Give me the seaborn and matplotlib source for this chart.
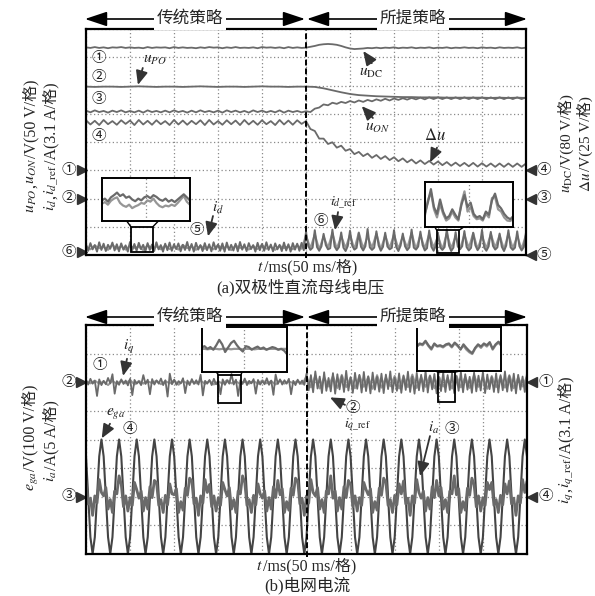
import numpy as np
import matplotlib
matplotlib.use("Agg")
import matplotlib.pyplot as plt
import matplotlib.transforms as mtrans
from matplotlib.patches import FancyArrowPatch, Rectangle
import seaborn as sns

# ---------------- data (oscilloscope divisions, time in ms) ----------------
# panel (a)
u_dc = [7.35, 7.33, 7.36, 7.33, 7.35, 7.32, 7.35, 7.34, 7.36, 7.33,
        7.35, 7.33, 7.34, 7.32, 7.36, 7.33, 7.35, 7.34, 7.35, 7.32,
        7.36, 7.33, 7.35, 7.33, 7.34, 7.32, 7.35, 7.33, 7.36, 7.34,
        7.35, 7.32, 7.35, 7.33, 7.36, 7.33, 7.34, 7.33, 7.35, 7.32,
        7.36, 7.34, 7.35, 7.33, 7.35, 7.32, 7.36, 7.33, 7.35, 7.33,
        7.34, 7.37, 7.40, 7.44, 7.46, 7.47, 7.46, 7.44, 7.40, 7.35,
        7.31, 7.29, 7.30, 7.31, 7.33, 7.32, 7.34, 7.32, 7.34, 7.33,
        7.35, 7.32, 7.34, 7.33, 7.35, 7.32, 7.34, 7.33, 7.35, 7.32,
        7.34, 7.33, 7.35, 7.32, 7.34, 7.33, 7.35, 7.33, 7.34, 7.32,
        7.35, 7.33, 7.34, 7.32, 7.35, 7.33, 7.34, 7.33, 7.35, 7.32,
        7.34]
u_po = [5.96, 5.95, 5.96, 5.96, 5.95, 5.96, 5.97, 5.96, 5.95, 5.96,
        5.96, 5.95, 5.96, 5.97, 5.96, 5.95, 5.96, 5.96, 5.95, 5.96,
        5.97, 5.96, 5.96, 5.95, 5.96, 5.96,
        5.95, 5.90, 5.83, 5.76, 5.70, 5.66, 5.64, 5.62, 5.61, 5.60,
        5.59, 5.59, 5.58, 5.58, 5.58, 5.57, 5.57, 5.57, 5.57, 5.57,
        5.56, 5.57, 5.56, 5.57, 5.56]
u_on = [5.11, 5.05, 5.12, 5.06, 5.10, 5.04, 5.11, 5.06, 5.12, 5.05,
        5.10, 5.05, 5.11, 5.04, 5.12, 5.06, 5.10, 5.05, 5.11, 5.05,
        5.12, 5.06, 5.10, 5.04, 5.11, 5.05, 5.12, 5.06, 5.10, 5.05,
        5.11, 5.04, 5.12, 5.06, 5.11, 5.05, 5.10, 5.04, 5.12, 5.06,
        5.11, 5.05, 5.10, 5.05, 5.12, 5.04, 5.11, 5.06, 5.10, 5.05,
        5.09, 5.06, 5.18, 5.22, 5.33, 5.30, 5.39, 5.35, 5.42, 5.38,
        5.45, 5.40, 5.47, 5.42, 5.49, 5.44, 5.51, 5.46, 5.53, 5.47,
        5.54, 5.49, 5.55, 5.50, 5.56, 5.51, 5.57, 5.51, 5.58, 5.52,
        5.58, 5.52, 5.58, 5.52, 5.58, 5.52, 5.58, 5.52, 5.58, 5.52,
        5.58, 5.52, 5.58, 5.52, 5.58, 5.52, 5.58, 5.52, 5.58, 5.52,
        5.58]
du = [4.77, 4.62, 4.75, 4.60, 4.78, 4.63, 4.74, 4.61, 4.77, 4.64,
      4.76, 4.60, 4.78, 4.62, 4.75, 4.61, 4.77, 4.63, 4.74, 4.60,
      4.78, 4.62, 4.76, 4.61, 4.75, 4.63, 4.77, 4.60, 4.78, 4.62,
      4.74, 4.61, 4.77, 4.63, 4.76, 4.60, 4.78, 4.62, 4.75, 4.61,
      4.77, 4.63, 4.74, 4.60, 4.78, 4.62, 4.76, 4.61, 4.77, 4.64,
      4.74, 4.46, 4.39, 4.12, 4.12, 3.93, 3.99, 3.80, 3.87, 3.69,
      3.75, 3.57, 3.65, 3.50, 3.59, 3.44, 3.54, 3.40, 3.50, 3.36,
      3.46, 3.32, 3.42, 3.28, 3.38, 3.24, 3.35, 3.22, 3.33, 3.20,
      3.31, 3.18, 3.29, 3.16, 3.27, 3.15, 3.26, 3.14, 3.26, 3.13,
      3.25, 3.13, 3.24, 3.12, 3.24, 3.12, 3.24, 3.12, 3.24, 3.12,
      3.24]
i_d = [0.38, 0.15, 0.42, 0.20, 0.35, 0.12, 0.45, 0.18, 0.40, 0.14,
       0.36, 0.22, 0.44, 0.16, 0.38, 0.13, 0.41, 0.19, 0.34, 0.12,
       0.46, 0.17, 0.39, 0.15, 0.43, 0.21, 0.36, 0.13, 0.42, 0.18,
       0.37, 0.14, 0.45, 0.20, 0.35, 0.12, 0.40, 0.17, 0.44, 0.15,
       0.38, 0.21, 0.41, 0.13, 0.36, 0.18, 0.46, 0.16, 0.39, 0.12,
       0.43, 0.19, 0.35, 0.14, 0.42, 0.17, 0.38, 0.13, 0.45, 0.20,
       0.37, 0.15, 0.41, 0.12, 0.44, 0.18, 0.36, 0.16, 0.40, 0.13,
       0.46, 0.19, 0.38, 0.14, 0.42, 0.21, 0.35, 0.12, 0.43, 0.17,
       0.39, 0.15, 0.45, 0.18, 0.37, 0.13, 0.41, 0.20, 0.36, 0.14,
       0.44, 0.16, 0.38, 0.12, 0.42, 0.19, 0.40, 0.15, 0.43, 0.17,
       0.82, 0.32, 0.18, 0.26, 0.88, 0.28, 0.15, 0.30, 0.75, 0.35,
       0.20, 0.24, 0.90, 0.30, 0.17, 0.28, 0.80, 0.26, 0.14, 0.32,
       0.86, 0.33, 0.19, 0.25, 0.78, 0.29, 0.16, 0.31, 0.92, 0.27,
       0.18, 0.26, 0.84, 0.34, 0.15, 0.29, 0.79, 0.30, 0.20, 0.25,
       0.88, 0.28, 0.14, 0.33, 0.76, 0.31, 0.17, 0.27, 0.90, 0.26,
       0.19, 0.30, 0.83, 0.35, 0.16, 0.24, 0.87, 0.29, 0.15, 0.32,
       0.77, 0.27, 0.18, 0.28, 0.91, 0.33, 0.14, 0.26, 0.81, 0.30,
       0.20, 0.31, 0.85, 0.28, 0.16, 0.25, 0.79, 0.34, 0.17, 0.29,
       0.89, 0.26, 0.15, 0.30, 0.82, 0.32, 0.19, 0.27, 0.76, 0.29,
       0.14, 0.33, 0.88, 0.27, 0.18, 0.26, 0.84, 0.31, 0.16, 0.28,
       0.80]
i_d_ref = [0.30, 0.20, 0.34, 0.24, 0.28, 0.18, 0.36, 0.22, 0.31, 0.19,
           0.33, 0.25, 0.29, 0.17, 0.35, 0.23, 0.30, 0.20, 0.34, 0.21,
           0.28, 0.19, 0.36, 0.24, 0.31, 0.18, 0.33, 0.22, 0.29, 0.20,
           0.35, 0.23, 0.30, 0.17, 0.34, 0.25, 0.28, 0.19, 0.32, 0.21,
           0.36, 0.22, 0.29, 0.18, 0.33, 0.24, 0.31, 0.20, 0.35, 0.22,
           0.70, 0.24, 0.74, 0.20, 0.66, 0.26, 0.78, 0.22, 0.68, 0.25,
           0.72, 0.21, 0.80, 0.23, 0.65, 0.26, 0.76, 0.20, 0.70, 0.24,
           0.74, 0.22, 0.67, 0.25, 0.79, 0.21, 0.71, 0.23, 0.75, 0.26,
           0.68, 0.20, 0.77, 0.24, 0.66, 0.22, 0.73, 0.25, 0.78, 0.21,
           0.69, 0.23, 0.75, 0.26, 0.71, 0.20, 0.76, 0.24, 0.67, 0.22,
           0.72]

# panel (b)
i_q = [6.08, 5.92, 6.12, 5.95, 6.05, 5.52, 6.10, 5.90,
       6.05, 5.93, 6.15, 5.96, 6.28, 5.60, 6.04, 5.91,
       6.10, 5.94, 6.06, 5.89, 6.12, 5.55, 6.08, 5.95,
       6.03, 5.90, 6.25, 5.94, 6.09, 5.58, 6.11, 5.92,
       6.06, 5.95, 6.13, 5.90, 6.07, 5.50, 6.30, 5.93,
       6.09, 5.91, 6.04, 5.96, 6.14, 5.62, 6.06, 5.90,
       6.11, 5.94, 6.07, 5.92, 6.26, 5.54, 6.05, 5.95,
       6.08, 5.90, 6.12, 5.93, 6.04, 5.58, 6.10, 5.91,
       6.06, 5.95, 6.29, 5.92, 6.09, 5.52, 6.07, 5.94,
       6.13, 5.90, 6.05, 5.96, 6.11, 5.60, 6.08, 5.92,
       6.04, 5.93, 6.14, 5.91, 6.06, 5.56, 6.27, 5.94,
       6.10, 5.92, 6.07, 5.95, 6.12, 5.58, 6.05, 5.90,
       6.09, 5.94, 6.06, 5.91,
       6.30, 5.72, 6.25, 5.65, 6.38, 5.78, 6.20, 5.62, 6.35, 5.70,
       6.15, 5.68, 6.32, 5.60, 6.28, 5.75, 6.22, 5.66, 6.40, 5.71,
       6.18, 5.63, 6.33, 5.77, 6.26, 5.64, 6.36, 5.69, 6.21, 5.61,
       6.34, 5.74, 6.19, 5.67, 6.30, 5.62, 6.27, 5.76, 6.38, 5.65,
       6.16, 5.70, 6.31, 5.63, 6.24, 5.73, 6.37, 5.66, 6.20, 5.60,
       6.33, 5.72, 6.26, 5.68, 6.39, 5.64, 6.22, 5.75, 6.29, 5.61,
       6.17, 5.69, 6.35, 5.66, 6.25, 5.73, 6.32, 5.62, 6.21, 5.70,
       6.37, 5.65, 6.28, 5.74, 6.19, 5.63, 6.34, 5.68, 6.23, 5.71,
       6.36, 5.62, 6.27, 5.76, 6.18, 5.66, 6.31, 5.64, 6.25, 5.72,
       6.38, 5.67, 6.22, 5.70, 6.30, 5.61, 6.26, 5.74, 6.20, 5.66,
       6.32]
i_q_ref = [6.04, 5.96, 6.06, 5.95, 6.03, 5.90, 6.05, 5.94, 6.06, 5.96,
           6.08, 5.92, 6.05, 5.95, 6.03, 5.97, 6.06, 5.93, 6.04, 5.96,
           6.07, 5.91, 6.05, 5.95, 6.04, 5.96, 6.06, 5.94, 6.05, 5.92,
           6.03, 5.95, 6.08, 5.96, 6.04, 5.93, 6.06, 5.95, 6.05, 5.94,
           6.07, 5.96, 6.04, 5.92, 6.06, 5.95, 6.03, 5.97, 6.05, 5.94,
           6.20, 5.82, 6.24, 5.78, 6.18, 5.85, 6.22, 5.80, 6.26, 5.83,
           6.16, 5.79, 6.23, 5.84, 6.19, 5.77, 6.25, 5.81, 6.17, 5.86,
           6.22, 5.78, 6.20, 5.83, 6.27, 5.80, 6.18, 5.84, 6.24, 5.79,
           6.21, 5.85, 6.16, 5.78, 6.23, 5.82, 6.19, 5.80, 6.26, 5.84,
           6.18, 5.77, 6.22, 5.83, 6.20, 5.81, 6.25, 5.79, 6.17, 5.85,
           6.21]
e_ga = [3.41, 2.00, 0.59, 0.00, 0.59, 2.00, 3.41, 4.00,
        3.41, 2.00, 0.59, 0.00, 0.59, 2.00, 3.41, 4.00,
        3.41, 2.00, 0.59, 0.00, 0.59, 2.00, 3.41, 4.00,
        3.41, 2.00, 0.59, 0.00, 0.59, 2.00, 3.41, 4.00,
        3.41, 2.00, 0.59, 0.00, 0.59, 2.00, 3.41, 4.00,
        3.41, 2.00, 0.59, 0.00, 0.59, 2.00, 3.41, 4.00,
        3.41, 2.00, 0.59, 0.00, 0.59, 2.00, 3.41, 4.00,
        3.41, 2.00, 0.59, 0.00, 0.59, 2.00, 3.41, 4.00,
        3.41, 2.00, 0.59, 0.00, 0.59, 2.00, 3.41, 4.00,
        3.41, 2.00, 0.59, 0.00, 0.59, 2.00, 3.41, 4.00,
        3.41, 2.00, 0.59, 0.00, 0.59, 2.00, 3.41, 4.00,
        3.41, 2.00, 0.59, 0.00, 0.59, 2.00, 3.41, 4.00,
        3.41, 2.00, 0.59, 0.00, 0.59, 2.00, 3.41, 4.00,
        3.41, 2.00, 0.59, 0.00, 0.59, 2.00, 3.41, 4.00,
        3.41, 2.00, 0.59, 0.00, 0.59, 2.00, 3.41, 4.00,
        3.41, 2.00, 0.59, 0.00, 0.59, 2.00, 3.41, 4.00,
        3.41, 2.00, 0.59, 0.00, 0.59, 2.00, 3.41, 4.00,
        3.41, 2.00, 0.59, 0.00, 0.59, 2.00, 3.41, 4.00,
        3.41, 2.00, 0.59, 0.00, 0.59, 2.00, 3.41, 4.00,
        3.41, 2.00, 0.59, 0.00, 0.59, 2.00, 3.41, 4.00,
        3.41, 2.00, 0.59, 0.00, 0.59, 2.00, 3.41, 4.00,
        3.41, 2.00, 0.59, 0.00, 0.59, 2.00, 3.41, 4.00,
        3.41, 2.00, 0.59, 0.00, 0.59, 2.00, 3.41, 4.00,
        3.41, 2.00, 0.59, 0.00, 0.59, 2.00, 3.41, 4.00,
        3.41, 2.00, 0.59, 0.00, 0.59, 2.00, 3.41, 4.00,
        3.41]
i_a = [2.55, 1.75, 1.95, 1.35, 2.03, 1.78, 2.60, 2.15,
       2.03, 2.32, 1.57, 1.90, 1.45, 2.20, 2.10, 2.73,
       2.43, 1.65, 2.03, 1.50, 1.97, 1.70, 2.50, 2.25,
       1.95, 2.20, 1.50, 1.97, 1.57, 2.35, 1.97, 2.57,
       2.50, 1.70, 1.90, 1.45, 2.05, 1.72, 2.45, 2.10,
       2.07, 2.28, 1.45, 1.83, 1.53, 2.30, 2.05, 2.65,
       2.55, 1.75, 1.95, 1.35, 2.03, 1.78, 2.60, 2.15,
       2.43, 1.65, 2.03, 1.50, 1.97, 1.70, 2.50, 2.25,
       2.03, 2.32, 1.57, 1.90, 1.45, 2.20, 2.10, 2.73,
       2.50, 1.70, 1.90, 1.45, 2.05, 1.72, 2.45, 2.10,
       1.95, 2.20, 1.50, 1.97, 1.57, 2.35, 1.97, 2.57,
       2.07, 2.28, 1.45, 1.83, 1.53, 2.30, 2.05, 2.65,
       2.55, 1.75, 1.95, 1.35, 2.03, 1.78, 2.60, 2.15,
       2.03, 2.32, 1.57, 1.90, 1.45, 2.20, 2.10, 2.73,
       1.95, 2.20, 1.50, 1.97, 1.57, 2.35, 1.97, 2.57,
       2.43, 1.65, 2.03, 1.50, 1.97, 1.70, 2.50, 2.25,
       2.07, 2.28, 1.45, 1.83, 1.53, 2.30, 2.05, 2.65,
       2.50, 1.70, 1.90, 1.45, 2.05, 1.72, 2.45, 2.10,
       2.55, 1.75, 1.95, 1.35, 2.03, 1.78, 2.60, 2.15,
       1.95, 2.20, 1.50, 1.97, 1.57, 2.35, 1.97, 2.57,
       2.03, 2.32, 1.57, 1.90, 1.45, 2.20, 2.10, 2.73,
       2.07, 2.28, 1.45, 1.83, 1.53, 2.30, 2.05, 2.65,
       2.43, 1.65, 2.03, 1.50, 1.97, 1.70, 2.50, 2.25,
       2.50, 1.70, 1.90, 1.45, 2.05, 1.72, 2.45, 2.10,
       2.55, 1.75, 1.95, 1.35, 2.03, 1.78, 2.60, 2.15,
       2.55]

# zoomed insets (normalised 0..1 inside each inset)
ins_a1_id = [0.48, 0.52, 0.45, 0.55, 0.60, 0.66, 0.58, 0.62, 0.54, 0.57,
             0.50, 0.46, 0.52, 0.48, 0.55, 0.58, 0.53, 0.60, 0.56, 0.50,
             0.47, 0.52, 0.45, 0.49, 0.44, 0.50, 0.56, 0.62, 0.55, 0.48]
ins_a1_ref = [0.40, 0.44, 0.38, 0.47, 0.52, 0.55, 0.42, 0.36, 0.33, 0.38,
              0.30, 0.34, 0.37, 0.42, 0.40, 0.48, 0.45, 0.52, 0.42, 0.35,
              0.32, 0.36, 0.34, 0.38, 0.35, 0.42, 0.50, 0.58, 0.45, 0.38]
ins_a2_id = [0.30, 0.55, 0.85, 0.45, 0.30, 0.62, 0.35, 0.20, 0.25, 0.40,
             0.28, 0.18, 0.50, 0.72, 0.45, 0.55, 0.30, 0.22, 0.25, 0.18,
             0.35, 0.28, 0.60, 0.75, 0.50, 0.42, 0.30, 0.22, 0.18, 0.25]
ins_a2_ref = [0.25, 0.60, 0.78, 0.40, 0.22, 0.52, 0.30, 0.15, 0.20, 0.35,
              0.22, 0.15, 0.55, 0.80, 0.35, 0.45, 0.25, 0.18, 0.20, 0.15,
              0.30, 0.22, 0.65, 0.68, 0.40, 0.35, 0.22, 0.15, 0.14, 0.20]
ins_b1_iq = [0.55, 0.58, 0.52, 0.56, 0.50, 0.60, 0.72, 0.62, 0.45, 0.55,
             0.65, 0.70, 0.60, 0.52, 0.46, 0.58, 0.56, 0.50, 0.54, 0.57,
             0.52, 0.55, 0.50, 0.53, 0.56, 0.54, 0.50, 0.52, 0.48, 0.40]
ins_b1_ref = [0.52, 0.52, 0.51, 0.52, 0.52, 0.52, 0.51, 0.52, 0.52, 0.52,
              0.51, 0.52, 0.52, 0.52, 0.51, 0.52, 0.52, 0.52, 0.51, 0.52,
              0.52, 0.52, 0.51, 0.52, 0.52, 0.52, 0.51, 0.52, 0.52, 0.52]
ins_b2_iq = [0.55, 0.62, 0.60, 0.68, 0.58, 0.50, 0.62, 0.56, 0.58, 0.55,
             0.60, 0.62, 0.55, 0.64, 0.58, 0.48, 0.60, 0.52, 0.45, 0.40,
             0.52, 0.60, 0.55, 0.62, 0.58, 0.65, 0.50, 0.60, 0.66, 0.58]
ins_b2_ref = [0.55, 0.60, 0.58, 0.66, 0.56, 0.48, 0.60, 0.55, 0.56, 0.53,
              0.58, 0.60, 0.53, 0.62, 0.56, 0.50, 0.57, 0.48, 0.42, 0.38,
              0.50, 0.58, 0.52, 0.60, 0.55, 0.63, 0.48, 0.58, 0.64, 0.56]

# channel ground markers (label, level in divisions)
marks_a_left = [("①", 3.0), ("②", 2.0), ("⑥", 0.1)]
marks_a_right = [("④", 3.0), ("③", 2.0), ("⑤", 0.0)]
marks_b_left = [("②", 6.0), ("③", 2.0)]
marks_b_right = [("①", 6.0), ("④", 2.0)]

# ---------------- style ----------------
sns.set_theme(style="white")
plt.rcParams["font.family"] = ["Liberation Serif", "Noto Sans CJK SC"]
plt.rcParams["mathtext.fontset"] = "stix"
plt.rcParams["axes.unicode_minus"] = False

W, H = 595, 596
fig = plt.figure(figsize=(5.95, 5.96), dpi=100)


def fx(x):
    return x / W


def fy(y):
    return 1 - y / H


ax1 = fig.add_axes([fx(86), fy(255), (526 - 86) / W, (255 - 29) / H])
ax2 = fig.add_axes([fx(86), fy(554), (527 - 86) / W, (554 - 325) / H])

MID = "#6a6a6a"
LIGHT = "#969696"


def trace(ax, vals, color, lw, z=3):
    t = np.linspace(0, 500, len(vals))
    sns.lineplot(x=t, y=np.asarray(vals), ax=ax, color=color, lw=lw,
                 estimator=None, sort=False, legend=False, zorder=z)


def frame(ax):
    ax.set_xlim(0, 500)
    ax.set_ylim(0, 8)
    ax.set_xticks(np.arange(0, 501, 50))
    ax.set_yticks(np.arange(0, 9, 1))
    ax.grid(True, ls=(0, (1, 2)), color="#8a8a8a", lw=0.9)
    ax.set_axisbelow(True)
    ax.tick_params(length=0, labelbottom=False, labelleft=False)
    ax.set_xlabel("")
    ax.set_ylabel("")
    for s in ax.spines.values():
        s.set_color("black")
        s.set_linewidth(1.6)
        s.set_zorder(10)
    ax.axvline(250, color="black", lw=1.4, ls=(0, (3, 1.5)), zorder=6,
               ymin=-0.015, ymax=1, clip_on=False)


# panel (a) traces
trace(ax1, u_dc, MID, 1.3)
trace(ax1, u_po, MID, 1.3)
trace(ax1, u_on, MID, 1.3)
trace(ax1, du, MID, 1.3)
trace(ax1, i_d_ref, LIGHT, 1.4)
trace(ax1, i_d, MID, 1.4)
frame(ax1)

# panel (b) traces
trace(ax2, e_ga, "#444444", 1.5)
trace(ax2, i_a, MID, 2.0)
trace(ax2, i_q_ref, LIGHT, 1.4)
trace(ax2, i_q, MID, 1.3)
frame(ax2)


def side_marks(ax, marks, side, tri_x, num_x):
    tr = mtrans.blended_transform_factory(ax.transAxes, ax.transData)
    for lab, lvl in marks:
        ax.plot([tri_x], [lvl], marker=">" if side == "left" else "<",
                ms=6.5, color="#333333", transform=tr, clip_on=False)
        ax.text(num_x, lvl, lab, transform=tr, ha="center", va="center",
                fontsize=10.5, color="#222222")


side_marks(ax1, marks_a_left, "left", -0.010, -0.040)
side_marks(ax1, marks_a_right, "right", 1.011, 1.040)
side_marks(ax2, marks_b_left, "left", -0.012, -0.040)
side_marks(ax2, marks_b_right, "right", 1.011, 1.042)


def label(ax, x, y, s, fs=10.5):
    ax.text(x, y, s, ha="center", va="center", fontsize=fs, color="#222222", zorder=7)


def arrow(ax, tail, head):
    ax.annotate("", xy=head, xytext=tail,
                arrowprops=dict(arrowstyle="-|>,head_length=0.7,head_width=0.3",
                                color="#333333", lw=1.3, mutation_scale=12,
                                shrinkA=0, shrinkB=0), zorder=7)


# panel (a) annotations
for s, (x, y) in zip(["①", "②", "③", "④", "⑤", "⑥"],
                     [(14.8, 6.94), (14.8, 6.30), (14.8, 5.49), (14.8, 4.19),
                      (125.8, 0.88), (267, 1.18)]):
    label(ax1, x, y, s, 10.5)
label(ax1, 78, 6.92, r"$u_{PO}$", 11)
arrow(ax1, (64.5, 6.62), (59, 6.02))
label(ax1, 324, 6.46, r"$u_{\mathrm{DC}}$", 11)
arrow(ax1, (324.7, 6.79), (315, 7.22))
label(ax1, 331, 4.48, r"$u_{ON}$", 11)
arrow(ax1, (326, 4.85), (313.3, 5.27))
label(ax1, 397, 4.22, r"$\Delta u$", 12)
arrow(ax1, (398.9, 3.80), (391, 3.28))
label(ax1, 150, 1.68, r"$i_d$", 11)
arrow(ax1, (144.3, 1.38), (138.6, 0.66))
label(ax1, 293, 1.86, r"$i_{d\_\mathrm{ref}}$", 10)
arrow(ax1, (286.4, 1.52), (283, 0.88))

# panel (b) annotations
label(ax2, 15.9, 6.60, "①", 10.5)
label(ax2, 49.9, 4.34, "④", 10.5)
label(ax2, 302.7, 5.10, "②", 10.5)
label(ax2, 415, 4.34, "③", 10.5)
label(ax2, 48, 7.22, r"$i_q$", 11)
arrow(ax2, (46.5, 6.82), (42, 6.22))
label(ax2, 33, 4.92, r"$e_{ga}$", 11)
arrow(ax2, (27.2, 4.55), (17.8, 4.04))
label(ax2, 308, 4.52, r"$i_{q\_\mathrm{ref}}$", 10)
arrow(ax2, (293.6, 5.21), (276.6, 5.47))
label(ax2, 394, 4.42, r"$i_a$", 11)
arrow(ax2, (390, 4.12), (378.7, 2.72))


def inset(ax, bounds, box, conn, dark, light):
    x0, y0, w, h = bounds
    ins = ax.inset_axes([x0, y0, w, h], transform=ax.transData, zorder=8)
    n = np.arange(len(dark))
    sns.lineplot(x=n, y=np.asarray(light), ax=ins, color=LIGHT, lw=1.6,
                 estimator=None, sort=False, legend=False)
    sns.lineplot(x=n, y=np.asarray(dark), ax=ins, color=MID, lw=1.6,
                 estimator=None, sort=False, legend=False)
    ins.set_xlim(0, len(dark) - 1)
    ins.set_ylim(0, 1)
    ins.axvline((len(dark) - 1) / 2, ls=(0, (1, 2)), color="#8a8a8a", lw=0.9)
    ins.set_xticks([])
    ins.set_yticks([])
    ins.set_xlabel("")
    ins.set_ylabel("")
    ins.set_facecolor("white")
    for s in ins.spines.values():
        s.set_color("black")
        s.set_linewidth(1.4)
    bx, by, bw, bh = box
    ax.add_patch(Rectangle((bx, by), bw, bh, fill=False, ec="black", lw=1.3, zorder=7))
    for (xa, ya), (xb, yb) in conn:
        ax.plot([xa, xb], [ya, yb], color="black", lw=1.0, zorder=7)


inset(ax1, (18, 1.2, 100, 1.53), (51, 0.1, 25, 0.9),
      [((46.3, 1.2), (51, 1.0)), ((82.2, 1.2), (76, 1.0))], ins_a1_id, ins_a1_ref)
inset(ax1, (385, 0.98, 100.6, 1.59), (398.5, 0.08, 25.5, 0.8),
      [((396.6, 0.98), (398.5, 0.88)), ((428.8, 0.98), (424, 0.88))], ins_a2_id, ins_a2_ref)
inset(ax2, (131, 6.35, 97, 1.57), (150, 5.29, 25.4, 0.96),
      [((148, 6.35), (150, 6.25)), ((177, 6.35), (175.4, 6.25))], ins_b1_iq, ins_b1_ref)
inset(ax2, (375, 6.40, 96, 1.54), (399, 5.32, 19, 1.03),
      [((396, 6.40), (399, 6.35)), ((425, 6.40), (418, 6.35))], ins_b2_iq, ins_b2_ref)


# strategy headers
def header(x0, x1, y, text, xc):
    fig.add_artist(FancyArrowPatch((fx(x0), fy(y)), (fx(x1), fy(y)),
                                   transform=fig.transFigure,
                                   arrowstyle="<|-|>,head_length=0.75,head_width=0.25",
                                   mutation_scale=18, color="black", lw=1.2,
                                   shrinkA=0, shrinkB=0, zorder=1))
    fig.text(fx(xc), fy(y), text, ha="center", va="center", fontsize=12,
             zorder=3, bbox=dict(fc="white", ec="none", pad=2))


header(85, 305, 19, "传统策略", 190)
header(307, 527, 19, "所提策略", 413)
header(85, 305, 317, "传统策略", 190)
header(307, 527, 317, "所提策略", 413)


# mixed math / plain (CJK-capable) labels laid end to end on one baseline
def rich(pieces, cx, cy, fs, rot=0):
    fs_px = fs * 100 / 72
    arts = [fig.text(0, 0, p, fontsize=fs, rotation=rot, rotation_mode="anchor",
                     ha="left", va="baseline") for p in pieces]
    r = fig.canvas.get_renderer()
    ext = [a.get_window_extent(r) for a in arts]
    lens = [(e.width if rot == 0 else e.height) for e in ext]
    if rot == 0:
        x = cx - sum(lens) / 2
        yb = cy + 0.33 * fs_px
        for a, L in zip(arts, lens):
            a.set_position((fx(x), fy(yb)))
            x += L
    else:
        y = cy + sum(lens) / 2
        xb = cx + 0.33 * fs_px
        for a, L in zip(arts, lens):
            a.set_position((fx(xb), fy(y)))
            y -= L


rich([r"$u_{PO}$", ",", r"$u_{ON}$", "/V(50 V/格)"], 30, 146, 11.5, 90)
rich([r"$i_d$", ",", r"$i_{d\_\mathrm{ref}}$", "/A(3.1 A/格)"], 50, 147, 11.5, 90)
rich([r"$u_{\mathrm{DC}}$", "/V(80 V/格)"], 566, 144, 11, 90)
rich([r"$\Delta u$", "/V(25 V/格)"], 585, 144, 11, 90)
rich([r"$e_{ga}$", "/V(100 V/格)"], 29, 438, 11.5, 90)
rich([r"$i_a$", "/A(5 A/格)"], 50, 441, 11.5, 90)
rich([r"$i_q$", ",", r"$i_{q\_\mathrm{ref}}$", "/A(3.1 A/格)"], 565, 440, 11.5, 90)
rich([r"$t$", "/ms(50 ms/格)"], 307, 266, 11.5)
rich([r"$t$", "/ms(50 ms/格)"], 306, 565, 11.5)

fig.text(fx(300), fy(287.5), "(a)双极性直流母线电压", ha="center", va="center", fontsize=12)
fig.text(fx(307), fy(586), "(b)电网电流", ha="center", va="center", fontsize=12)

fig.savefig("out.png", dpi=100, facecolor="white")
